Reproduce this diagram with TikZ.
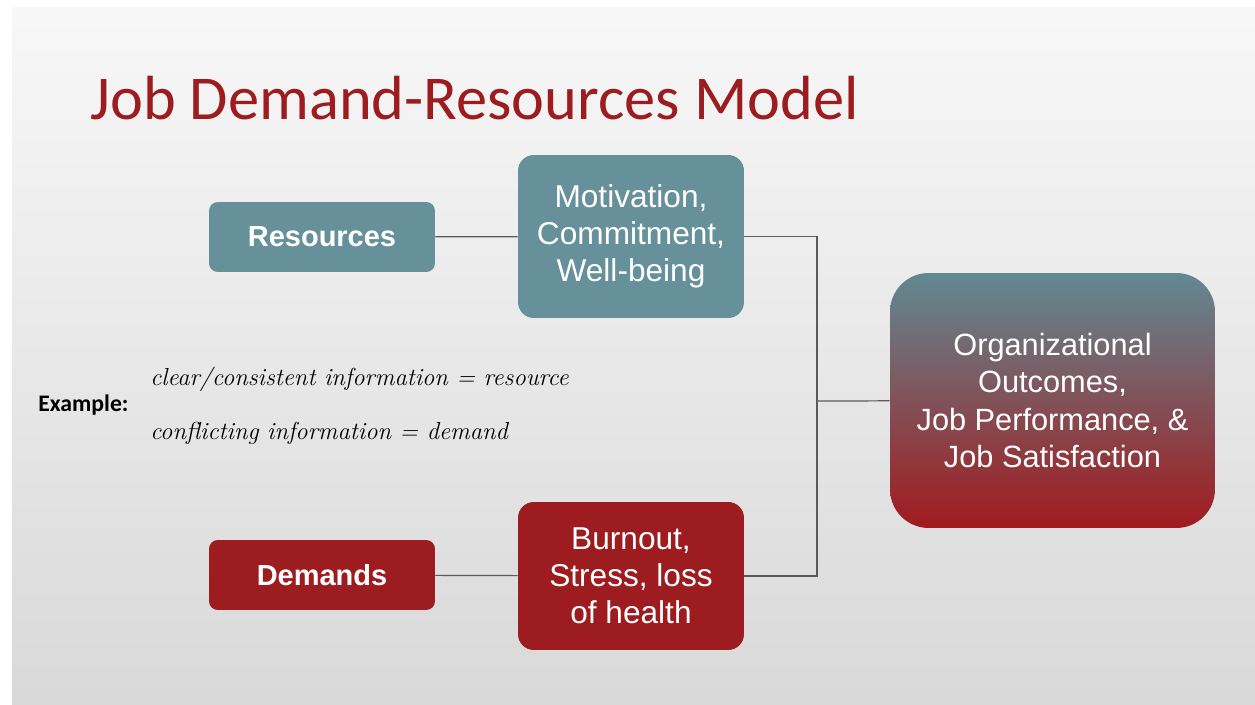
\documentclass[tikz,border=0pt]{standalone}
\usepackage{fontspec}
\setmainfont{Liberation Sans}
\newfontfamily\titlefont{Carlito}
\newfontfamily\handfont{Latin Modern Roman}
\definecolor{jdteal}{HTML}{66909A}
\definecolor{jdred}{HTML}{9C1C20}
\definecolor{jdline}{HTML}{5A5A5A}
\begin{document}
\begin{tikzpicture}[x=0.02cm,y=-0.02cm,
  box/.style={rounded corners=5pt,text=white,align=center,inner sep=0pt},
  small/.style={box,minimum width=4.52cm,minimum height=1.4cm,font=\bfseries\fontsize{16.5}{20}\selectfont},
  mid/.style={box,minimum width=4.52cm,rounded corners=9pt,font=\fontsize{18}{21.2}\selectfont},
  hand/.style={anchor=base west,inner sep=0pt,font=\handfont\itshape\fontsize{14}{17}\selectfont},
  link/.style={draw=jdline,line width=0.7pt}]

\useasboundingbox (0,0) rectangle (1255,705);
\fill[white] (0,0) rectangle (1255,705);
\shade[top color=white!97!black,bottom color=white!85!black] (12,8) rectangle (1255,705);

\node[anchor=base west,inner sep=0pt,text=jdred,font=\titlefont\fontsize{35.5}{40}\selectfont] (title) at (90,120) {Job Demand-Resources Model};

\node[small,fill=jdteal] (res) at (322,237) {Resources};
\node[mid,fill=jdteal,minimum height=3.26cm] (mot) at (631,236.5) {Motivation,\\Commitment,\\Well-being};

\node[small,fill=jdred] (dem) at (322,575) {Demands};
\node[mid,fill=jdred,minimum height=2.96cm] (burn) at (631,576) {Burnout,\\Stress, loss\\of health};

\node[box,rounded corners=22pt,minimum width=6.5cm,minimum height=5.1cm,top color=jdteal!95!black,bottom color=jdred!95!red,font=\fontsize{17.5}{21.4}\selectfont] (org) at (1052.5,400.5) {Organizational\\Outcomes,\\Job Performance, \&\\Job Satisfaction};

\coordinate (joint) at (817,401);
\draw[link] (res) -- (mot);
\draw[link] (dem) -- (burn);
\draw[link] (mot.east) -| (joint) |- (burn.east);
\draw[link] (joint) -- (org);

\node[anchor=west,inner sep=0pt,font=\titlefont\bfseries\fontsize{13.5}{16}\selectfont] (exlabel) at (38,405) {Example:};
\node[hand] (exres) at (150,386) {clear/consistent information = resource};
\node[hand] (exdem) at (150,440) {conflicting information = demand};
\end{tikzpicture}
\end{document}
